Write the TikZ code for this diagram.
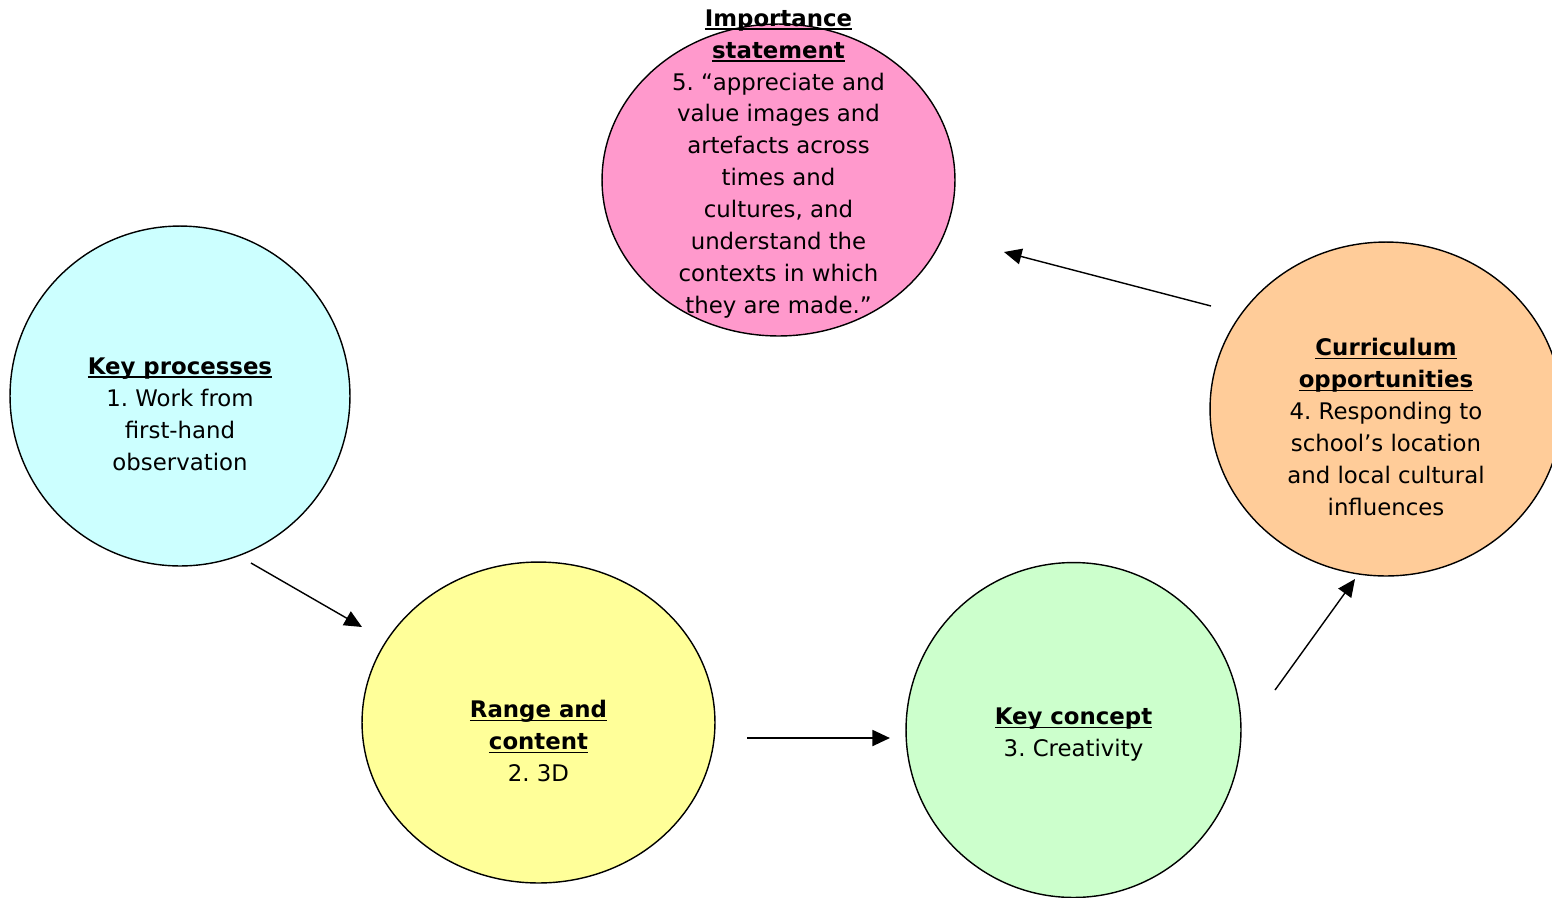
\documentclass[tikz,border=0pt]{standalone}
\usepackage{fontspec}
\setmainfont{DejaVu Sans}
\usetikzlibrary{shapes.geometric,arrows.meta}
\frenchspacing
\definecolor{cyanfill}{HTML}{CCFFFF}
\definecolor{yellowfill}{HTML}{FFFF99}
\definecolor{greenfill}{HTML}{CCFFCC}
\definecolor{orangefill}{HTML}{FFCC99}
\definecolor{pinkfill}{HTML}{FF99CC}
% bold heading with a thin underline set just below the baseline
\newcommand{\headline}[1]{%
  \setbox0\hbox{\textbf{#1}}%
  \rlap{\rule[-2pt]{\wd0}{0.8pt}}\box0}
\tikzset{
  bubble/.style={ellipse, draw=black, line width=0.8pt, inner sep=0pt},
  bubbletext/.style={align=center, inner sep=0pt,
    font=\fontsize{13}{18.2}\selectfont},
  flow/.style={-{Triangle[length=10pt,width=9pt]}, line width=0.8pt},
}
\begin{document}
\begin{tikzpicture}[x=0.02cm, y=-0.02cm]
\useasboundingbox (0,0) rectangle (1552,897);

% circles
\node[bubble, fill=cyanfill, minimum width=6.8cm, minimum height=6.8cm] (kp) at (180,396) {};
\node[bubble, fill=yellowfill, minimum width=7.06cm, minimum height=6.42cm] (rc) at (538.5,722.5) {};
\node[bubble, fill=greenfill, minimum width=6.7cm, minimum height=6.7cm] (kc) at (1073.5,730) {};
\node[bubble, fill=orangefill, minimum width=7.04cm, minimum height=6.68cm] (co) at (1386,409) {};
\node[bubble, fill=pinkfill, minimum width=7.06cm, minimum height=6.24cm] (is) at (778.5,180) {};

% labels
\node[bubbletext] (kpt) at (180,414) {\headline{Key processes}\\1. Work from\\first-hand\\observation};
\node[bubbletext] (rct) at (538.5,741) {\headline{Range and}\\\headline{content}\\2. 3D};
\node[bubbletext] (kct) at (1073.5,735) {\headline{Key concept}\\3. Creativity};
\node[bubbletext] (cot) at (1386,427) {\headline{Curriculum}\\\headline{opportunities}\\4. Responding to\\school’s location\\and local cultural\\influences};
\node[bubbletext] (ist) at (778.5,164) {\headline{Importance}\\\headline{statement}\\5. “appreciate and\\value images and\\artefacts across\\times and\\cultures, and\\understand the\\contexts in which\\they are made.”};

% arrow end points
\coordinate (a1s) at (251,563);
\coordinate (a1e) at (362,627);
\coordinate (a2s) at (747,738);
\coordinate (a2e) at (890,738);
\coordinate (a3s) at (1275,690);
\coordinate (a3e) at (1355,579);
\coordinate (a4s) at (1211,306);
\coordinate (a4e) at (1004,252);

\draw[flow] (a1s) -- (a1e);
\draw[flow, line width=1.4pt] (a2s) -- (a2e);
\draw[flow] (a3s) -- (a3e);
\draw[flow] (a4s) -- (a4e);
\end{tikzpicture}
\end{document}
